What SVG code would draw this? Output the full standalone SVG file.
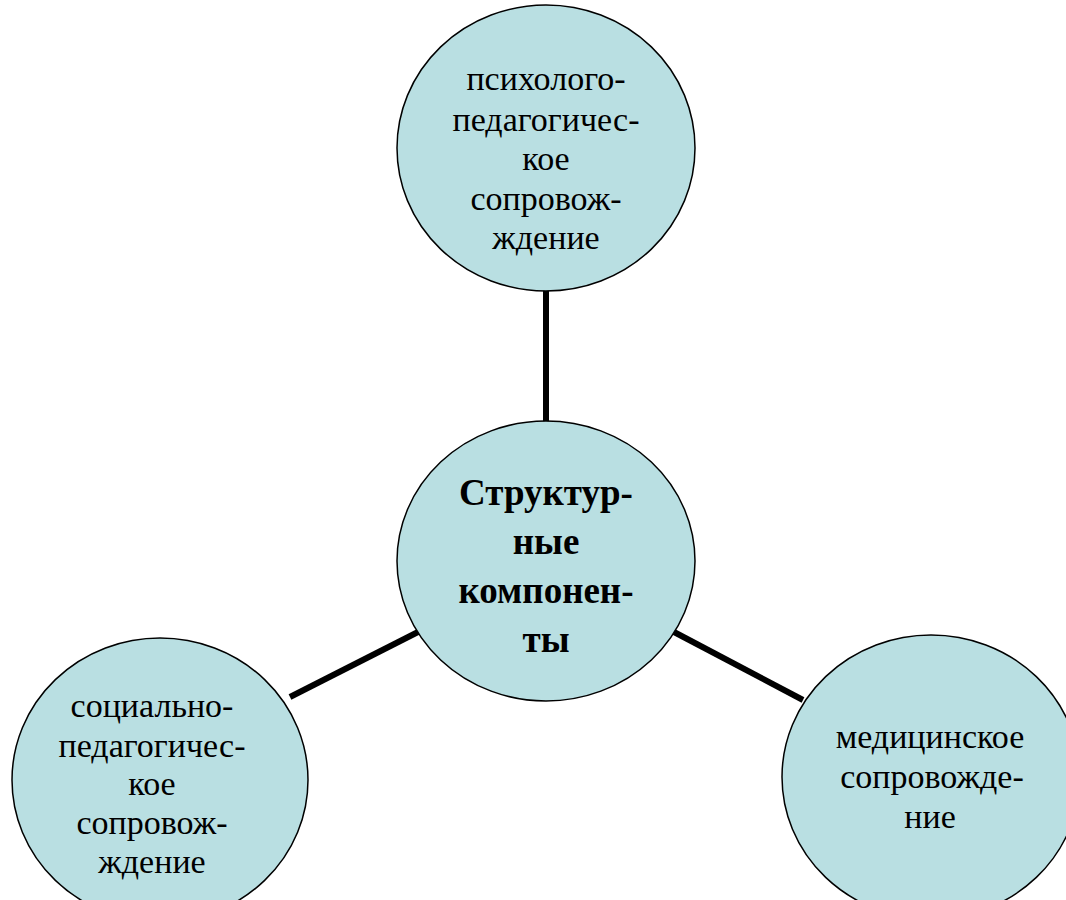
<svg xmlns="http://www.w3.org/2000/svg" width="1066" height="900" viewBox="0 0 1066 900">
<style>
.node{fill:#b9dfe2;stroke:#000;stroke-width:1.5}
.t{font-family:"Liberation Serif","Times New Roman",serif;font-size:34px;fill:#000;text-anchor:middle}
.b{font-weight:bold;font-size:37px}
.c{stroke:#000;stroke-width:6;fill:none}
</style>
<rect width="1066" height="900" fill="#fff"/>
<g id="connectors">
<line class="c" x1="546" y1="288" x2="546" y2="425"/>
<line class="c" x1="290" y1="697" x2="418" y2="632"/>
<line class="c" x1="674" y1="632" x2="803" y2="700"/>
</g>
<g id="top">
<ellipse class="node" cx="546" cy="148" rx="149" ry="143"/>
<text class="t" x="546" y="90">психолого-</text>
<text class="t" x="546" y="131">педагогичес-</text>
<text class="t" x="546" y="170">кое</text>
<text class="t" x="546" y="210">сопровож-</text>
<text class="t" x="546" y="249">ждение</text>
</g>
<g id="center">
<ellipse class="node" cx="546" cy="561" rx="149" ry="140"/>
<text class="t b" x="546" y="505">Структур-</text>
<text class="t b" x="546" y="554">ные</text>
<text class="t b" x="546" y="603">компонен-</text>
<text class="t b" x="546" y="652">ты</text>
</g>
<g id="left">
<ellipse class="node" cx="160" cy="780" rx="148" ry="142"/>
<text class="t" x="152" y="717">социально-</text>
<text class="t" x="152" y="757">педагогичес-</text>
<text class="t" x="152" y="795">кое</text>
<text class="t" x="152" y="834">сопровож-</text>
<text class="t" x="152" y="873">ждение</text>
</g>
<g id="right">
<ellipse class="node" cx="931" cy="777" rx="149" ry="142"/>
<text class="t" x="930" y="748">медицинское</text>
<text class="t" x="932" y="788">сопровожде-</text>
<text class="t" x="930" y="828">ние</text>
</g>
</svg>
